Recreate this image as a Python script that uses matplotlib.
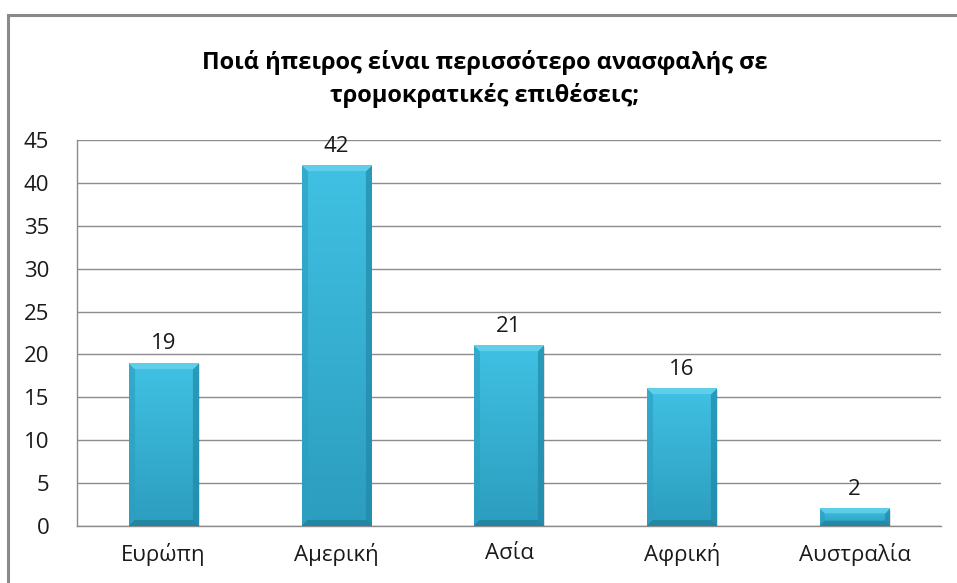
import numpy as np
import matplotlib
matplotlib.use("Agg")
from matplotlib import pyplot as plt
from matplotlib.patches import Rectangle
from matplotlib.colors import to_rgb

categories = ["Ευρώπη", "Αμερική", "Ασία", "Αφρική", "Αυστραλία"]
values = [19, 42, 21, 16, 2]
y_ticks = [0, 5, 10, 15, 20, 25, 30, 35, 40, 45]
title = "Ποιά ήπειρος είναι περισσότερο ανασφαλής σε\nτρομοκρατικές επιθέσεις;"

plt.rcParams['font.family'] = ['Open Sans', 'DejaVu Sans']

W, H, DPI = 957, 583, 100
fig = plt.figure(figsize=(W / DPI, H / DPI), dpi=DPI)
ax = fig.add_axes([77 / W, 1 - 526 / H, (941 - 77) / W, (526 - 140) / H])

# chart frame (runs off the right and bottom edge like the screenshot)
fig.patches.append(Rectangle((8 / W, -0.05), 1.2, 1 - 15 / H + 0.05,
                             transform=fig.transFigure, fill=False,
                             edgecolor="#8a8a8a", linewidth=2.2, zorder=0))

x = np.arange(len(categories))
bar_w = 0.4
ax.set_xlim(-0.5, len(categories) - 0.5)
ax.set_ylim(0, 45)

bars = ax.bar(x, values, width=bar_w, color="none", edgecolor="none", zorder=3)


def bevel_image(wpx, hpx, b=6):
    top = np.array(to_rgb("#40c1e3"))
    bot = np.array(to_rgb("#2c9dbe"))
    img = np.zeros((hpx, wpx, 3))
    t = np.linspace(0, 1, hpx)[:, None, None]
    img[:] = top * (1 - t) + bot * t
    jj, ii = np.meshgrid(np.arange(wpx), np.arange(hpx))
    dl, dr, dt, db = jj, wpx - 1 - jj, ii, hpx - 1 - ii
    d = np.stack([dt, db, dl, dr])
    which = d.argmin(axis=0)
    near = d.min(axis=0) < b
    shades = {0: np.array(to_rgb("#6fd6f0")), 1: np.array(to_rgb("#1d7c98")),
              2: np.array(to_rgb("#2c9fc0")), 3: np.array(to_rgb("#1f86a4"))}
    for k, c in shades.items():
        m = near & (which == k)
        img[m] = img[m] * 0.35 + c * 0.65
    return img


for rect, v in zip(bars, values):
    x0, y0 = rect.get_x(), 0
    x1, y1 = x0 + rect.get_width(), v
    p0 = ax.transData.transform((x0, y0))
    p1 = ax.transData.transform((x1, y1))
    wpx = max(int(round(p1[0] - p0[0])), 2)
    hpx = max(int(round(p1[1] - p0[1])), 2)
    b = min(6, hpx // 3)
    ax.imshow(bevel_image(wpx, hpx, b), extent=(x0, x1, y0, y1),
              aspect="auto", zorder=3, interpolation="bilinear")
    # soft shadow
    ax.add_patch(Rectangle((x0 + 0.01, y0 - 0.15), x1 - x0, y1 - y0,
                           facecolor="#000000", alpha=0.12, zorder=2,
                           edgecolor="none"))
    ax.text(rect.get_x() + rect.get_width() / 2, v + 1.0, str(v),
            ha="center", va="bottom", fontsize=16, color="#1a1a1a", zorder=4)

ax.set_xlim(-0.5, len(categories) - 0.5)
ax.set_ylim(0, 45)
ax.set_xticks(x)
ax.set_xticklabels(categories, fontsize=16, color="#1a1a1a")
ax.set_yticks(y_ticks)
ax.set_yticklabels([str(t) for t in y_ticks], fontsize=16, color="#1a1a1a")
ax.tick_params(axis="x", length=0, pad=12)
ax.tick_params(axis="y", length=0, pad=20)
ax.yaxis.grid(True, color="#8c8c8c", linewidth=1.0, zorder=0)
ax.set_axisbelow(True)
for s in ["top", "right"]:
    ax.spines[s].set_visible(False)
for s in ["left", "bottom"]:
    ax.spines[s].set_color("#8c8c8c")
    ax.spines[s].set_linewidth(1.0)

fig.text(485 / W, 1 - 79 / H, title, ha="center", va="center",
         fontsize=17, fontweight="bold", color="#000000", linespacing=1.45)

fig.savefig("out.png", dpi=DPI)
